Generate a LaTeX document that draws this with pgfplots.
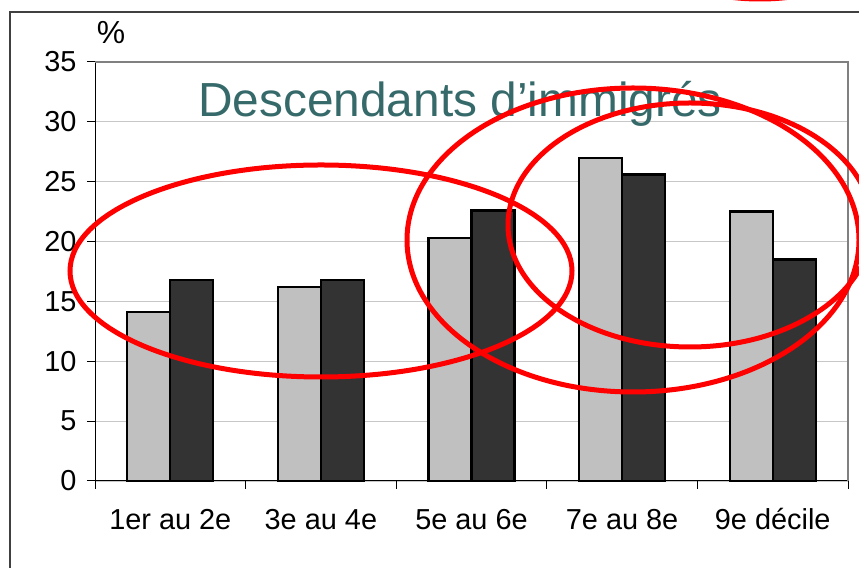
\documentclass[border=0pt]{standalone}
\usepackage{fontspec}
\setmainfont{Liberation Sans}
\usepackage{pgfplots}
\pgfplotsset{compat=1.18}
\definecolor{lightbar}{RGB}{192,192,192}
\definecolor{darkbar}{RGB}{51,51,51}
\definecolor{titlecol}{RGB}{54,105,105}
\begin{document}
\begin{tikzpicture}[x=1bp,y=1bp]
\useasboundingbox (0,0) rectangle (859,568);
\clip (0,0) rectangle (859,568);
\fill[white] (0,0) rectangle (859,568);
\draw[line width=2bp, color=black!75] (10,-5) -- (10,556) -- (870,556);
\begin{axis}[
  at={(95bp,87bp)}, anchor=south west, scale only axis,
  width=753bp, height=419bp,
  xmin=-0.5, xmax=4.5, ymin=0, ymax=35,
  ybar=0pt, bar width=43bp,
  axis lines*=left, axis line style={black, line width=1bp},
  xtick={-0.5,0.5,1.5,2.5,3.5,4.5},
  x tick label as interval,
  xticklabels={1er au 2e,3e au 4e,5e au 6e,7e au 8e,9e décile},
  ytick={0,5,...,35},
  tick align=outside, major tick length=8bp,
  tick style={black, line width=1bp},
  ymajorgrids, grid style={color=black!22, line width=0.8bp},
  ticklabel style={font=\fontsize{29}{34}\selectfont},
  /pgf/number format/assume math mode=true,
  xticklabel style={yshift=-15bp, text height=22bp, text depth=6bp},
  yticklabel style={xshift=-7bp},
  clip=false,
]
\addplot[fill=lightbar, draw=black, line width=2.3bp] coordinates {(0,14.1) (1,16.2) (2,20.3) (3,27.0) (4,22.5)};
\addplot[fill=darkbar, draw=black, line width=2.3bp] coordinates {(0,16.8) (1,16.8) (2,22.6) (3,25.6) (4,18.5)};
\draw[color=black!50, line width=2bp] (rel axis cs:0,1) -- (rel axis cs:1,1) -- (rel axis cs:1,0);
\end{axis}
\node[anchor=base, font=\fontsize{48}{56}\selectfont, text=titlecol, inner sep=0pt] at (460,451) {Descendants d’immigrés};
\node[font=\fontsize{32}{36}\selectfont, inner sep=0pt] at (111,535) {\%};
\draw[red, line width=5bp] (321,297) ellipse [x radius=251bp, y radius=106bp];
\draw[red, line width=5bp] (633,328) ellipse [x radius=226bp, y radius=152bp];
\draw[red, line width=5bp] (690,343) ellipse [x radius=182bp, y radius=122bp];
\draw[red, line width=5bp] (760,628) ellipse [x radius=120bp, y radius=59bp];
\end{tikzpicture}
\end{document}
